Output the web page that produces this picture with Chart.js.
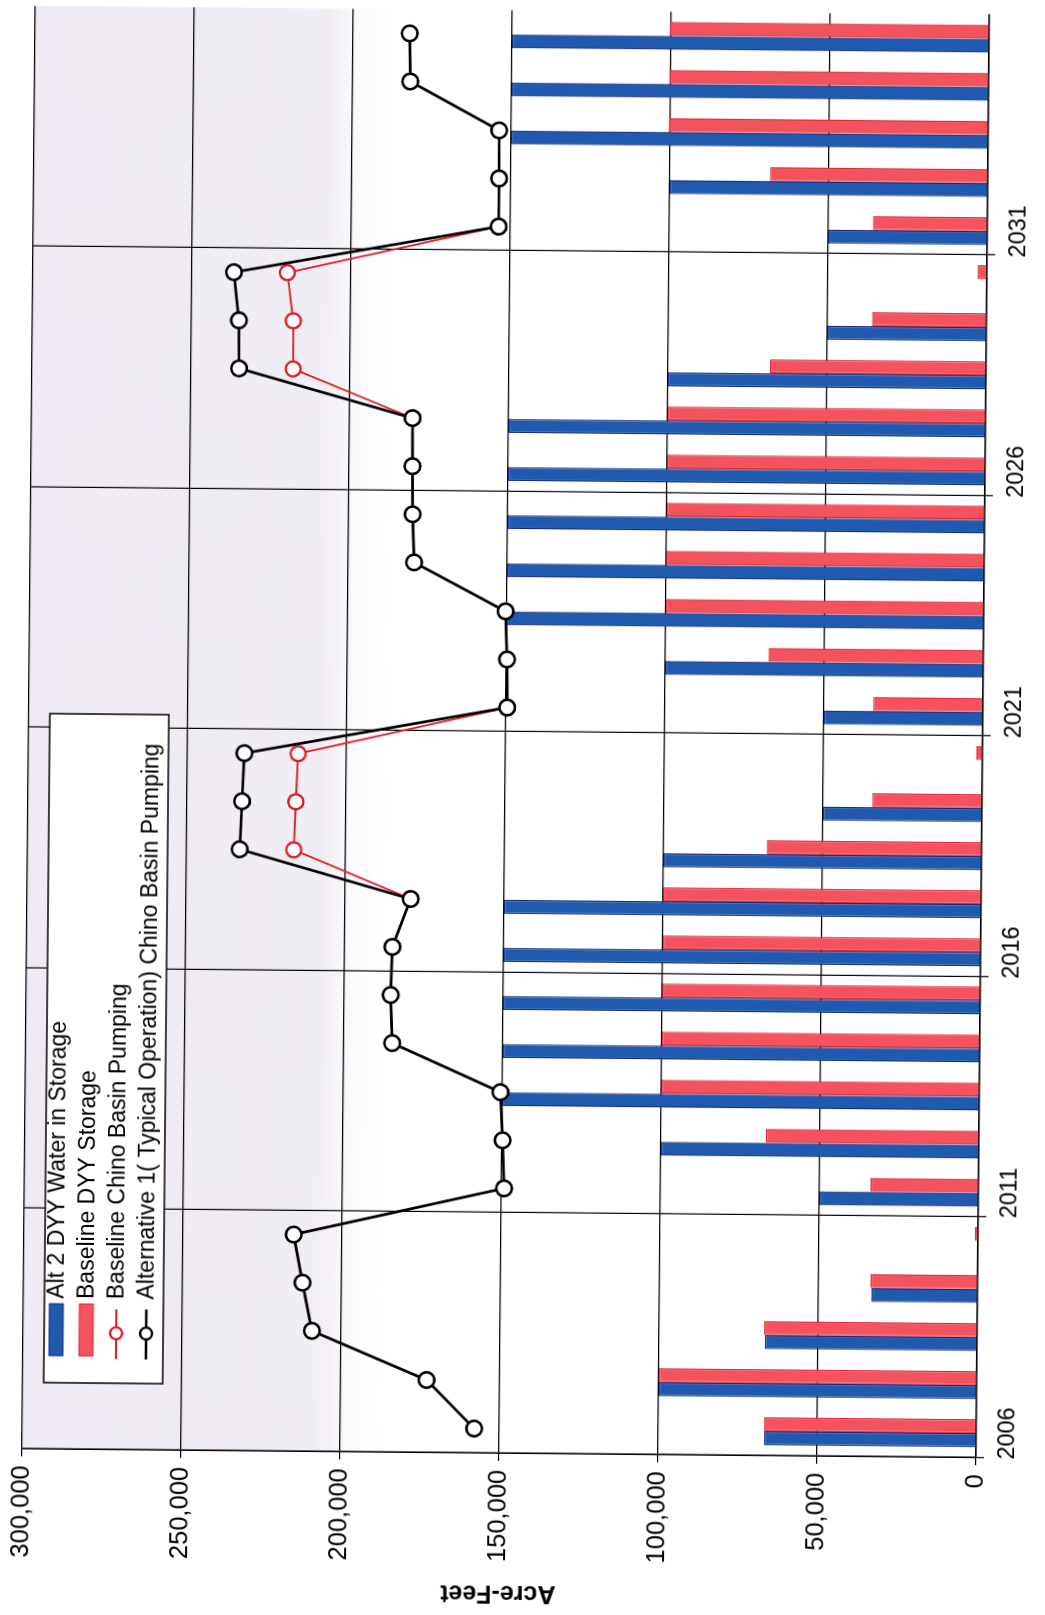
<!DOCTYPE html>
<html>
<head>
<meta charset="utf-8">
<script src="https://cdn.jsdelivr.net/npm/chart.js@4.4.1/dist/chart.umd.min.js"></script>
<style>
  html, body { margin: 0; padding: 0; background: #fff; overflow: hidden; }
  body { width: 1045px; height: 1615px; position: relative; }
  /* the scanned chart lies on its side, a little skewed */
  #wrap { position: absolute; left: -285px; top: 285px; width: 1615px; height: 1045px;
          transform: rotate(-89.47deg); transform-origin: 50% 50%; }
  #c { display: block; }
</style>
</head>
<body>
<div id="wrap"><canvas id="c" width="1615" height="1045"></canvas></div>
<script>
// ─── data ───────────────────────────────
const years = ['2006','2007','2008','2009','2010','2011','2012','2013','2014','2015',
               '2016','2017','2018','2019','2020','2021','2022','2023','2024','2025',
               '2026','2027','2028','2029','2030','2031','2032','2033','2034','2035'];
const shownYears = ['2006','2011','2016','2021','2026','2031'];

const alt2Storage = [66667, 100000, 66667, 33333, 0, 50000, 100000, 150000, 150000, 150000,
                     150000, 150000, 100000, 50000, 0, 50000, 100000, 150000, 150000, 150000,
                     150000, 150000, 100000, 50000, 0, 50000, 100000, 150000, 150000, 150000];
const baselineStorage = [66667, 100000, 67000, 33700, 1000, 34000, 67000, 100000, 100000, 100000,
                         100000, 100000, 67500, 34500, 2000, 34500, 67500, 100000, 100000, 100000,
                         100000, 100000, 68000, 36000, 3000, 36000, 68500, 100500, 100500, 100500];
const alt1Pumping = [157900, 173000, 209200, 212300, 215200, 149200, 149800, 150600, 184800, 185400,
                     185000, 179400, 233300, 232700, 232100, 149600, 149800, 150400, 179300, 179900,
                     180100, 180200, 234900, 235100, 236800, 153700, 153700, 153800, 181900, 182200];
const baselinePumping = [157900, 173000, 209200, 212300, 215200, 149200, 149800, 150600, 184800, 185400,
                         185000, 179400, 216300, 215800, 215200, 149600, 149800, 150400, 179300, 179900,
                         180100, 180200, 217900, 218000, 220000, 153700, 153700, 153800, 181900, 182200];

const sans = '"Liberation Sans", Arial, sans-serif';

// ─── plugins ────────────────────────────
const plotBackground = {
    id: 'plotBackground',
    beforeDraw(chart) {
        const { ctx, chartArea: a, scales: { y } } = chart;
        ctx.save();
        ctx.fillStyle = '#fff';
        ctx.fillRect(0, 0, chart.width, chart.height);
        const y0 = y.getPixelForValue(300000), y1 = y.getPixelForValue(185000);
        const g = ctx.createLinearGradient(0, y0, 0, y1);
        g.addColorStop(0, '#EFEAF3');
        g.addColorStop(0.8, '#F1EDF4');
        g.addColorStop(1, 'rgba(255,255,255,0)');
        ctx.fillStyle = g;
        ctx.fillRect(a.left, y0, a.width, y1 - y0);
        ctx.restore();
    }
};

const boxLegend = {
    id: 'boxLegend',
    afterDraw(chart) {
        const ctx = chart.ctx;
        const x0 = 228, y0 = 49, w = 669, h = 119;
        ctx.save();
        ctx.fillStyle = '#fff';
        ctx.fillRect(x0, y0, w, h);
        ctx.lineWidth = 1.5;
        ctx.strokeStyle = '#000';
        ctx.strokeRect(x0, y0, w, h);
        ctx.font = '23px ' + sans;
        ctx.textBaseline = 'middle';
        chart.data.datasets.forEach((ds, i) => {
            const cy = y0 + 12 + i * 30;
            if (ds.type === 'line') {
                ctx.strokeStyle = ds.borderColor;
                ctx.lineWidth = ds.borderWidth;
                ctx.beginPath(); ctx.moveTo(252, cy); ctx.lineTo(302, cy); ctx.stroke();
                ctx.beginPath(); ctx.arc(278, cy, 6, 0, Math.PI * 2);
                ctx.fillStyle = '#fff'; ctx.fill();
                ctx.lineWidth = 2.3; ctx.stroke();
            } else {
                ctx.fillStyle = ds.backgroundColor;
                ctx.fillRect(255, cy - 7, 52, 14);
                ctx.strokeStyle = ds.borderColor;
                ctx.lineWidth = 1;
                ctx.strokeRect(255, cy - 7, 52, 14);
            }
            ctx.fillStyle = '#000';
            ctx.fillText(ds.label, 312, cy + 1);
        });
        ctx.restore();
    }
};

// ─── chart ──────────────────────────────
new Chart(document.getElementById('c'), {
    type: 'bar',
    data: {
        labels: years,
        datasets: [
            { type: 'bar', label: 'Alt 2 DYY Water in Storage', data: alt2Storage,
              backgroundColor: '#1F5AAE', borderColor: '#142A7E', borderWidth: 1.3,
              categoryPercentage: 0.58, barPercentage: 1.0, order: 2 },
            { type: 'bar', label: 'Baseline DYY Storage', data: baselineStorage,
              backgroundColor: '#F4535D', borderColor: '#E02638', borderWidth: 1.3,
              categoryPercentage: 0.58, barPercentage: 1.0, order: 3 },
            { type: 'line', label: 'Baseline Chino Basin Pumping', data: baselinePumping,
              borderColor: '#D91E28', borderWidth: 1.8, tension: 0,
              pointRadius: 7.5, pointBorderWidth: 2.4, pointBackgroundColor: '#fff',
              pointBorderColor: '#D91E28', order: 1 },
            { type: 'line', label: 'Alternative 1( Typical Operation) Chino Basin Pumping', data: alt1Pumping,
              borderColor: '#000', borderWidth: 2.7, tension: 0,
              pointRadius: 7.8, pointBorderWidth: 2.6, pointBackgroundColor: '#fff',
              pointBorderColor: '#000', order: 0 }
        ]
    },
    options: {
        responsive: false,
        animation: false,
        devicePixelRatio: 1,
        layout: { padding: { top: 28, right: 7, left: 0, bottom: 0 } },
        plugins: { legend: { display: false }, tooltip: { enabled: false } },
        scales: {
            x: {
                offset: true,
                grid: { offset: true, lineWidth: 1.2, tickLength: 8,
                        color: c => c.index % 5 === 0 ? '#000' : 'rgba(0,0,0,0)' },
                border: { color: '#000', width: 1.5 },
                ticks: { autoSkip: false, maxRotation: 0, color: '#000', padding: 9,
                         font: { family: sans, size: 23.5 },
                         callback: (v, i) => shownYears.includes(years[i]) ? years[i] : '' },
                afterFit(s) { s.height = 63; }
            },
            y: {
                min: 0, max: 300000,
                ticks: { stepSize: 50000, color: '#000', padding: 9,
                         font: { family: sans, size: 25.5 },
                         callback: v => v.toLocaleString('en-US') },
                grid: { color: '#000', lineWidth: 1.2, tickLength: 8 },
                border: { color: '#000', width: 1.5 },
                title: { display: true, text: 'Acre-Feet', color: '#000',
                         font: { family: sans, size: 25, weight: 'bold' },
                         padding: { top: 7, bottom: 0 } },
                afterFit(s) { s.width = 162; }
            }
        }
    },
    plugins: [plotBackground, boxLegend]
});
</script>
</body>
</html>
